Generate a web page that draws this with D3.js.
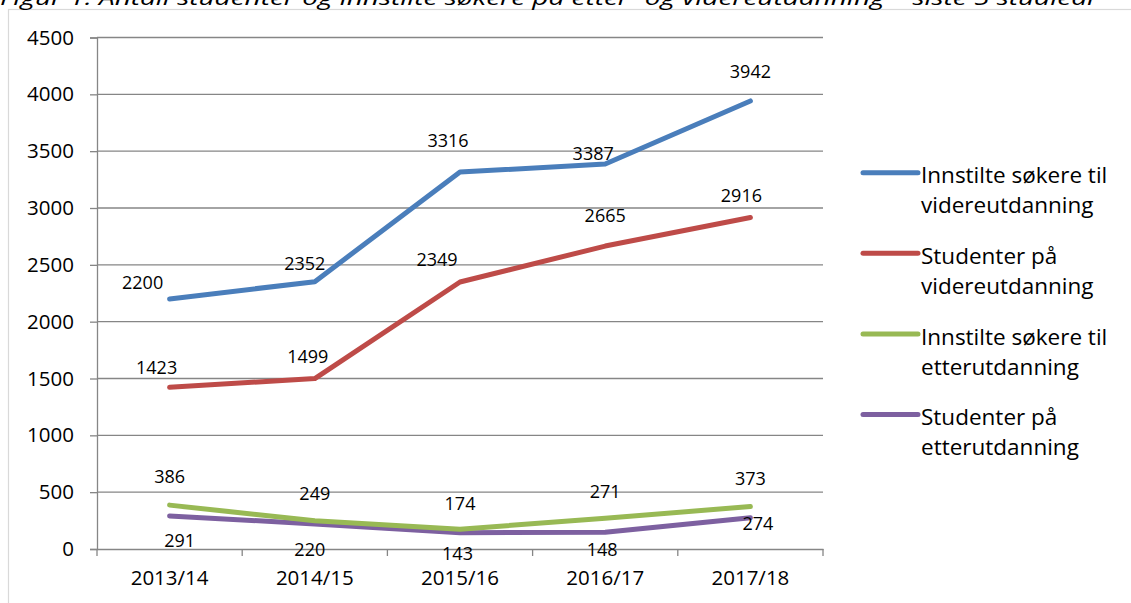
<!DOCTYPE html>
<html><head><meta charset="utf-8">
<script src="https://cdn.jsdelivr.net/npm/d3@7/dist/d3.min.js"></script>
<style>
html,body{margin:0;padding:0;background:#fff;}
svg{display:block;font-family:"Open Sans",sans-serif;}
</style></head>
<body>
<svg id="chart" width="1131" height="603"></svg>
<script>
// ---- data ----
const categories = ["2013/14","2014/15","2015/16","2016/17","2017/18"];
const seriesNames = [
  ["Innstilte søkere til","videreutdanning"],
  ["Studenter på","videreutdanning"],
  ["Innstilte søkere til","etterutdanning"],
  ["Studenter på","etterutdanning"]
];
const innstilteVidere = [2200, 2352, 3316, 3387, 3942];
const studenterVidere = [1423, 1499, 2349, 2665, 2916];
const innstilteEtter  = [386, 249, 174, 271, 373];
const studenterEtter  = [291, 220, 143, 148, 274];
const yTicks = [0,500,1000,1500,2000,2500,3000,3500,4000,4500];
const title = "Figur 1: Antall studenter og innstilte søkere på etter- og videreutdanning – siste 5 studieår";

// ---- style / layout ----
const colors = ["#4A7EBB","#BE4B48","#98B954","#7D60A0"];
// label offsets (dx, dy) relative to each point, mimicking the original placement
const labelOffsets = [
  [[-27,-17],[-10,-18.5],[-12,-32],[-12,-11],[0,-30]],
  [[-13,-20],[-7,-22.5],[-23,-23],[0,-31],[-9,-23]],
  [[0,-29],[0,-28],[0,-26],[0,-27],[0,-28.6]],
  [[10,24.5],[-5,24.6],[-2.5,20],[-3,17],[7.5,5]]
];
const series = [innstilteVidere, studenterVidere, innstilteEtter, studenterEtter];

const svg = d3.select("#chart");
const L = 97, R = 823, T = 37.5, B = 549;

// outer border
svg.append("rect").attr("x",8.5).attr("y",9.5).attr("width",1300).attr("height",800)
  .attr("fill","none").attr("stroke","#d9d9d9").attr("stroke-width",1.2);

// title (cut off at top)
svg.append("text").attr("x",0).attr("y",5).attr("font-style","italic")
  .attr("font-size",20).attr("fill","#000")
  .attr("textLength",1098).attr("lengthAdjust","spacingAndGlyphs").text(title);

const x = d3.scaleBand().domain(categories).range([L,R]).padding(0);
const y = d3.scaleLinear().domain([0,4500]).range([B,T]);

// gridlines
svg.append("g").selectAll("line").data(yTicks.filter(d=>d>0)).join("line")
  .attr("x1",L).attr("x2",R).attr("y1",d=>y(d)).attr("y2",d=>y(d))
  .attr("stroke","#868686").attr("stroke-width",1.3);

// y axis
const yAxis = svg.append("g").attr("transform",`translate(${L},0)`)
  .call(d3.axisLeft(y).tickValues(yTicks).tickSize(7).tickPadding(16).tickFormat(d3.format("d")));
yAxis.select(".domain").attr("stroke","#868686").attr("stroke-width",1.3);
yAxis.selectAll(".tick line").attr("stroke","#868686").attr("stroke-width",1.3);
yAxis.selectAll("text").attr("font-size",20.5).attr("fill","#000").attr("font-family","Open Sans");

// x axis
const xAxis = svg.append("g").attr("transform",`translate(0,${B})`)
  .call(d3.axisBottom(x).tickSize(0).tickPadding(21));
xAxis.select(".domain").attr("stroke","#868686").attr("stroke-width",1.3);
xAxis.selectAll("text").attr("font-size",20.5).attr("fill","#000").attr("font-family","Open Sans");
// band boundary tick marks
const bounds = categories.map(c=>x(c)).concat([x(categories[categories.length-1])+x.bandwidth()]);
svg.append("g").selectAll("line").data(bounds).join("line")
  .attr("x1",d=>d).attr("x2",d=>d).attr("y1",B).attr("y2",B+7)
  .attr("stroke","#868686").attr("stroke-width",1.3);

const cx = c => x(c) + x.bandwidth()/2;
const line = d3.line().x((d,i)=>cx(categories[i])).y(d=>y(d));

// lines (draw bottom series first so order matches)
[3,2,1,0].forEach(si=>{
  svg.append("path").datum(series[si]).attr("d",line)
    .attr("fill","none").attr("stroke",colors[si]).attr("stroke-width",5)
    .attr("stroke-linecap","round").attr("stroke-linejoin","round");
});

// data labels
series.forEach((s,si)=>{
  svg.append("g").selectAll("text").data(s).join("text")
    .attr("x",(d,i)=>cx(categories[i])+labelOffsets[si][i][0])
    .attr("y",(d,i)=>y(d)+labelOffsets[si][i][1])
    .attr("text-anchor","middle").attr("dominant-baseline","central")
    .attr("font-size",18).attr("fill","#000").text(d=>d);
});

// legend
const lg = svg.append("g");
const legY = [172.7, 253.3, 334, 414.5];
seriesNames.forEach((nm,i)=>{
  lg.append("line").attr("x1",863).attr("x2",918).attr("y1",legY[i]).attr("y2",legY[i])
    .attr("stroke",colors[i]).attr("stroke-width",5).attr("stroke-linecap","round");
  nm.forEach((t,j)=>{
    lg.append("text").attr("x",921).attr("y",legY[i]+2+j*30)
      .attr("dominant-baseline","central").attr("font-size",22.5).attr("fill","#000").text(t);
  });
});
</script>
</body></html>
